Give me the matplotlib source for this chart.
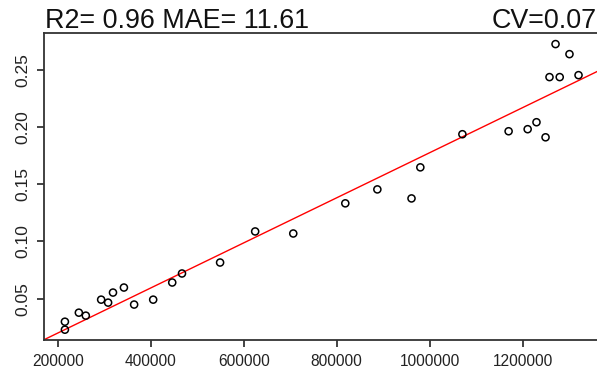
import matplotlib
matplotlib.use('Agg')
import matplotlib.pyplot as plt
import numpy as np

x_vals = [215000, 215000, 245000, 260000, 293000, 308000, 318500, 342000,
          364000, 405000, 446000, 467000, 549000, 624500, 706500, 818500,
          887500, 961000, 980000, 1070500, 1170000, 1211000, 1230000,
          1249500, 1271000, 1301000, 1258000, 1280000, 1320500]
y_vals = [0.0298, 0.0228, 0.0377, 0.0351, 0.0491, 0.0465, 0.0553, 0.0597,
          0.0448, 0.0491, 0.0641, 0.0720, 0.0816, 0.1088, 0.1070, 0.1334,
          0.1456, 0.1377, 0.1649, 0.1939, 0.1965, 0.1983, 0.2044,
          0.1912, 0.2728, 0.2640, 0.2439, 0.2439, 0.2456]

# fitted line
fit_slope = 1.972e-7
fit_intercept = -0.0195

xticks = [200000, 400000, 600000, 800000, 1000000, 1200000]
yticks = [0.05, 0.10, 0.15, 0.20, 0.25]

title_left = 'R2= 0.96 MAE= 11.61'
title_right = 'CV=0.07'

plt.rcParams['font.family'] = ['Liberation Sans', 'DejaVu Sans']

fig = plt.figure(figsize=(5.97, 3.75), dpi=100)
ax = fig.add_axes([0.0737, 0.094, 0.93, 0.818])

xlim = (170000, 1365000)
ax.set_xlim(xlim)
ax.set_ylim(0.014, 0.2825)

xs = np.array(xlim)
ax.plot(xs, fit_slope * xs + fit_intercept, color='red', lw=1)
ax.scatter(x_vals, y_vals, s=26, facecolors='none', edgecolors='black', linewidths=1.1, zorder=3)

ax.set_xticks(xticks)
ax.set_xticklabels([str(t) for t in xticks])
ax.set_yticks(yticks)
ax.set_yticklabels(['%.2f' % t for t in yticks], rotation=90, va='center')
ax.tick_params(direction='out', length=5, width=1.2, colors='#222222')
ax.tick_params(axis='x', labelsize=11.2, pad=5)
ax.tick_params(axis='y', labelsize=12.5, pad=5)

for side in ['left', 'top', 'bottom']:
    ax.spines[side].set_color('#333333')
    ax.spines[side].set_linewidth(1.3)
ax.spines['right'].set_visible(False)

fig.text(45 / 597, 1 - 28 / 375, title_left, fontsize=19.4, ha='left', va='baseline', color='#111111')
fig.text(0.999, 1 - 28 / 375, title_right, fontsize=19.4, ha='right', va='baseline', color='#111111')

fig.savefig('out.png', dpi=100)
